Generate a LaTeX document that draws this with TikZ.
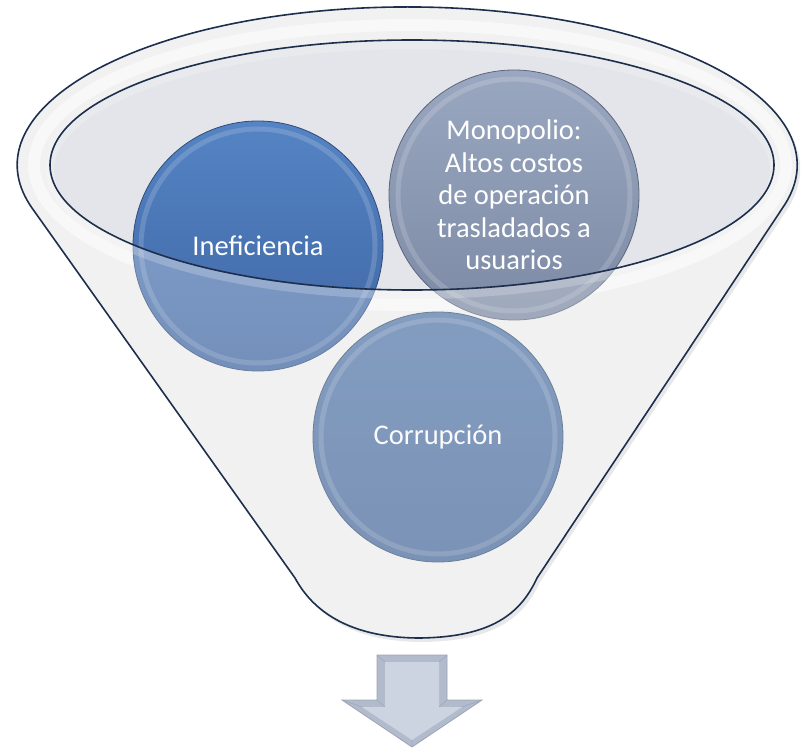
\documentclass[tikz,border=0pt]{standalone}
\usepackage{fontspec}
\setmainfont{Carlito}
\usetikzlibrary{shadows}
\definecolor{edgecol}{HTML}{1D2F4D}
\definecolor{bodycol}{HTML}{F1F1F1}
\definecolor{innercol}{HTML}{E3E5EA}
\definecolor{ineftop}{HTML}{5584C4}
\definecolor{inefbot}{HTML}{3E65A3}
\definecolor{monotop}{HTML}{9AA7C0}
\definecolor{monobot}{HTML}{7C8AA5}
\definecolor{corrtop}{HTML}{5479AD}
\definecolor{corrbot}{HTML}{476A9C}
\definecolor{arrowout}{HTML}{B1BBCC}
\definecolor{arrowin}{HTML}{CDD4E1}
\definecolor{arrowedge}{HTML}{9BA5B6}
\tikzset{
  bub/.style={circle, minimum size=250pt, inner sep=0pt, text=white, align=center,
    font=\fontsize{28.5}{32.5}\selectfont, draw=#1, line width=0.8pt},
  ringlight/.style={draw=white, opacity=0.16, line width=5pt},
  outline/.style={draw=edgecol, line width=1.6pt},
}
\begin{document}
\begin{tikzpicture}[x=1pt,y=-1pt]
\useasboundingbox (0,0) rectangle (801,749);

% funnel body
\path[fill=bodycol, drop shadow={opacity=0.18, shadow xshift=3pt, shadow yshift=-4pt}]
  (32,208) arc[start angle=164.2, end angle=374.7, x radius=390, y radius=158]
  -- (537,578) .. controls (520,615) and (490,637) .. (420,638)
  .. controls (355,638) and (315,615) .. (295,578) -- cycle;

% rim highlight band
\draw[white, line width=12pt, opacity=0.8] (410,165) ellipse[x radius=376, y radius=140];

% inner opening
\fill[innercol] (412,165) ellipse[x radius=362, y radius=125];

% circles
\node[bub=monobot!75!black, top color=monotop, bottom color=monobot] (mono) at (514,195)
  {Monopolio:\\Altos costos\\de operación\\trasladados a\\usuarios};
\node[bub=inefbot!75!black, top color=ineftop, bottom color=inefbot] (inef) at (258,246)
  {Ineficiencia};
\node[bub=corrbot!75!black, top color=corrtop, bottom color=corrbot] (corr) at (438,437)
  {Corrupción};
\draw[ringlight] (mono.center) circle[radius=116];
\draw[ringlight] (inef.center) circle[radius=117];
\draw[ringlight] (corr.center) circle[radius=117];

% glass band just under the opening
\draw[white, line width=8pt, opacity=0.22] (412,170) ellipse[x radius=362, y radius=125];

% translucent front of the funnel
\fill[bodycol, opacity=0.3, even odd rule]
  (32,208) arc[start angle=164.2, end angle=374.7, x radius=390, y radius=158]
  -- (537,578) .. controls (520,615) and (490,637) .. (420,638)
  .. controls (355,638) and (315,615) .. (295,578) -- cycle
  (412,165) ellipse[x radius=362, y radius=125];

% outlines
\draw[outline]
  (32,208) arc[start angle=164.2, end angle=374.7, x radius=390, y radius=158]
  -- (537,578) .. controls (520,615) and (490,637) .. (420,638)
  .. controls (355,638) and (315,615) .. (295,578) -- cycle;
\draw[outline] (412,165) ellipse[x radius=362, y radius=125];

% down arrow
\path[fill=arrowout, draw=arrowedge, line width=0.8pt, line join=miter]
  (377,655) -- (447,655) -- (447,700) -- (482,700) -- (412,747) -- (342,700) -- (377,700) -- cycle;
\fill[arrowin]
  (385,662) -- (439,662) -- (439,707) -- (462,707) -- (412,740) -- (362,707) -- (385,707) -- cycle;
\draw[arrowedge, line width=0.5pt]
  (377,655) -- (385,662) (447,655) -- (439,662) (447,700) -- (439,707)
  (482,700) -- (462,707) (412,747) -- (412,740) (342,700) -- (362,707) (377,700) -- (385,707);
\end{tikzpicture}
\end{document}
